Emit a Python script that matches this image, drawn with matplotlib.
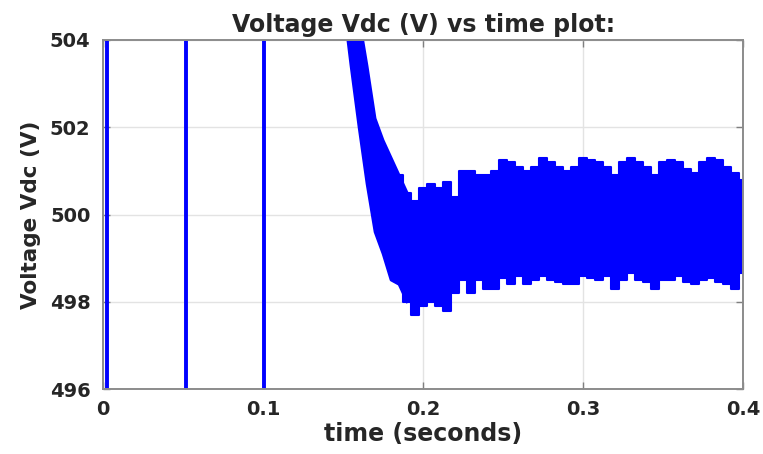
import matplotlib.pyplot as plt
import numpy as np

# spikes that shoot out of the plotted range
spike_t = [0.0025, 0.0519, 0.1005]

# envelope of the ripple band
band_t = [0.150, 0.155, 0.160, 0.165, 0.170, 0.175, 0.180, 0.185, 0.190, 0.195,
          0.200, 0.205, 0.210, 0.215, 0.220, 0.225, 0.230, 0.235, 0.240, 0.245,
          0.250, 0.255, 0.260, 0.265, 0.270, 0.275, 0.280, 0.285, 0.290, 0.295,
          0.300, 0.305, 0.310, 0.315, 0.320, 0.325, 0.330, 0.335, 0.340, 0.345,
          0.350, 0.355, 0.360, 0.365, 0.370, 0.375, 0.380, 0.385, 0.390, 0.395,
          0.400]
band_hi = [506.6, 505.5, 504.5, 503.4, 502.2, 501.7, 501.3, 500.9, 500.5, 500.3,
           500.6, 500.7, 500.6, 500.75, 500.4, 501.0, 501.0, 500.9, 500.9, 501.0,
           501.25, 501.2, 501.1, 501.0, 501.1, 501.3, 501.2, 501.1, 501.0, 501.1,
           501.3, 501.25, 501.2, 501.1, 500.9, 501.2, 501.3, 501.2, 501.1, 500.9,
           501.2, 501.25, 501.2, 501.05, 500.95, 501.2, 501.3, 501.25, 501.1, 500.95,
           500.8]
band_lo = [504.9, 503.4, 502.0, 500.7, 499.6, 499.1, 498.5, 498.4, 498.0, 497.7,
           497.9, 498.0, 497.9, 497.8, 498.2, 498.5, 498.2, 498.5, 498.3, 498.3,
           498.55, 498.4, 498.6, 498.4, 498.5, 498.6, 498.5, 498.45, 498.4, 498.4,
           498.6, 498.55, 498.5, 498.6, 498.3, 498.5, 498.65, 498.5, 498.45, 498.3,
           498.5, 498.5, 498.6, 498.45, 498.4, 498.5, 498.55, 498.45, 498.4, 498.3,
           498.65]

xticks = [0, 0.1, 0.2, 0.3, 0.4]
xtick_labels = ["0", "0.1", "0.2", "0.3", "0.4"]
yticks = [496, 498, 500, 502, 504]

t = np.array(band_t)
hi = np.array(band_hi)
lo = np.array(band_lo)
fall = t <= 0.190     # steep drop: drawn as a smooth band
ripple = t >= 0.185   # settled part: ragged steps

txt = "#262626"
plt.rcParams['font.family'] = ['DejaVu Sans']
plt.rcParams['font.weight'] = 'bold'

fig = plt.figure(figsize=(7.63, 4.54), dpi=100)
ax = fig.add_axes([0.135, 0.143, 0.839, 0.769])

blue = "#0000ff"
ax.vlines(spike_t, 480, 520, color=blue, lw=2.8)
ax.fill_between(t[fall], lo[fall], hi[fall], color=blue, lw=0)
ax.plot(t[fall], hi[fall], color=blue, lw=2)
ax.plot(t[fall], lo[fall], color=blue, lw=2)
ax.fill_between(t[ripple], lo[ripple], hi[ripple], step='mid', color=blue, lw=0)
ax.step(t[ripple], hi[ripple], where='mid', color=blue, lw=1.5)
ax.step(t[ripple], lo[ripple], where='mid', color=blue, lw=1.5)

ax.set_xlim(0, 0.4)
ax.set_ylim(496, 504)
ax.set_xticks(xticks)
ax.set_xticklabels(xtick_labels)
ax.set_yticks(yticks)
ax.grid(True, color="#e3e3e3", lw=1)
ax.set_axisbelow(True)
ax.tick_params(direction='in', length=5, width=1, colors="#7f7f7f",
               top=True, right=True, labelsize=14, labelcolor=txt)
ax.tick_params(axis='y', pad=9)
ax.tick_params(axis='x', pad=8)
for s in ax.spines.values():
    s.set_color("#8c8c8c")
    s.set_linewidth(1.4)

ax.set_xlabel("time (seconds)", fontsize=17, color=txt, fontweight='bold', labelpad=2)
ax.set_ylabel("Voltage Vdc (V)", fontsize=15.5, color=txt, fontweight='bold', labelpad=6)
ax.set_title("Voltage Vdc (V) vs time plot:", fontsize=17, color=txt, fontweight='bold', pad=6)

fig.savefig("out.png", dpi=100)
